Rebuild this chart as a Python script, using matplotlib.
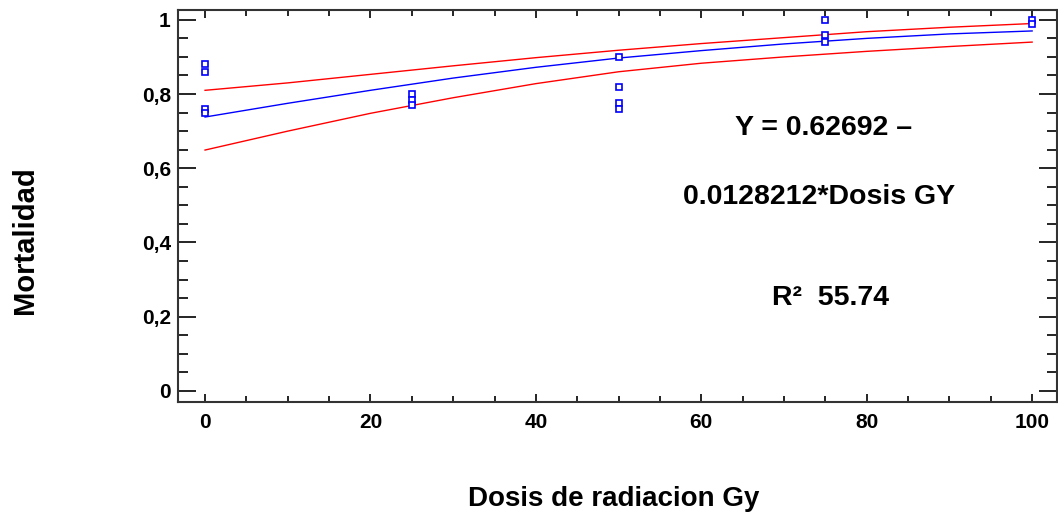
import matplotlib.pyplot as plt
from matplotlib.ticker import MultipleLocator, FuncFormatter

plt.rcParams['font.family'] = ['Liberation Sans', 'DejaVu Sans']

# observed mortality per dose
dose_obs = [0, 0, 0, 0, 25, 25, 25, 50, 50, 50, 50, 75, 75, 75, 100, 100]
mort_obs = [0.88, 0.86, 0.76, 0.75, 0.80, 0.785, 0.77, 0.90, 0.82, 0.775, 0.76,
            1.00, 0.96, 0.94, 1.00, 0.99]

# fitted model and confidence limits
dose_fit = [0, 10, 20, 30, 40, 50, 60, 70, 80, 90, 100]
mort_fit = [0.738, 0.775, 0.81, 0.843, 0.872, 0.897, 0.917, 0.935, 0.95, 0.962, 0.97]
upper_fit = [0.81, 0.83, 0.853, 0.876, 0.898, 0.918, 0.936, 0.952, 0.968, 0.98, 0.99]
lower_fit = [0.649, 0.70, 0.748, 0.79, 0.828, 0.86, 0.883, 0.90, 0.915, 0.928, 0.94]

fig = plt.figure(figsize=(10.58, 5.16), dpi=100)
ax = fig.add_axes([0.168, 0.221, 0.831, 0.760])

ax.plot(dose_fit, upper_fit, color='red', lw=1)
ax.plot(dose_fit, lower_fit, color='red', lw=1)
ax.plot(dose_fit, mort_fit, color='blue', lw=1)
ax.plot(dose_obs, mort_obs, ls='none', marker='s', ms=4.5, mfc='white',
        mec='blue', mew=1.2)

ax.set_xlim(-3.3, 103)
ax.set_ylim(-0.03, 1.027)

ax.xaxis.set_major_locator(MultipleLocator(20))
ax.xaxis.set_minor_locator(MultipleLocator(5))
ax.yaxis.set_major_locator(MultipleLocator(0.2))
ax.yaxis.set_minor_locator(MultipleLocator(0.05))
ax.yaxis.set_major_formatter(FuncFormatter(lambda v, p: ('%g' % round(v, 2)).replace('.', ',')))

ax.tick_params(axis='x', which='major', direction='in', length=6, width=1.2,
               top=True, labelsize=15, pad=8)
ax.tick_params(axis='x', which='minor', direction='in', length=4, width=1.2, top=True)
ax.tick_params(axis='y', which='major', direction='in', length=13, width=1.2,
               right=True, labelsize=15, pad=5)
ax.tick_params(axis='y', which='minor', direction='in', length=7, width=1.2, right=True)
for lab in ax.get_xticklabels() + ax.get_yticklabels():
    lab.set_fontweight('bold')

for sp in ax.spines.values():
    sp.set_linewidth(1.5)
    sp.set_color('#333333')

ax.set_xlabel('Dosis de radiacion Gy', fontsize=20, fontweight='bold', va='center')
ax.xaxis.set_label_coords(0.496, -0.247)
ax.set_ylabel('Mortalidad', fontsize=21, fontweight='bold', va='center')
ax.yaxis.set_label_coords(-0.174, 0.413)

ax.text(0.734, 0.699, 'Y = 0.62692 \u2013', transform=ax.transAxes, ha='center',
        va='center', fontsize=20.5, fontweight='bold')
ax.text(0.730, 0.523, '0.0128212*Dosis GY', transform=ax.transAxes, ha='center',
        va='center', fontsize=20.5, fontweight='bold')
ax.text(0.742, 0.265, 'R\u00b2  55.74', transform=ax.transAxes, ha='center',
        va='center', fontsize=20.5, fontweight='bold')

fig.savefig('out.png', dpi=100)
